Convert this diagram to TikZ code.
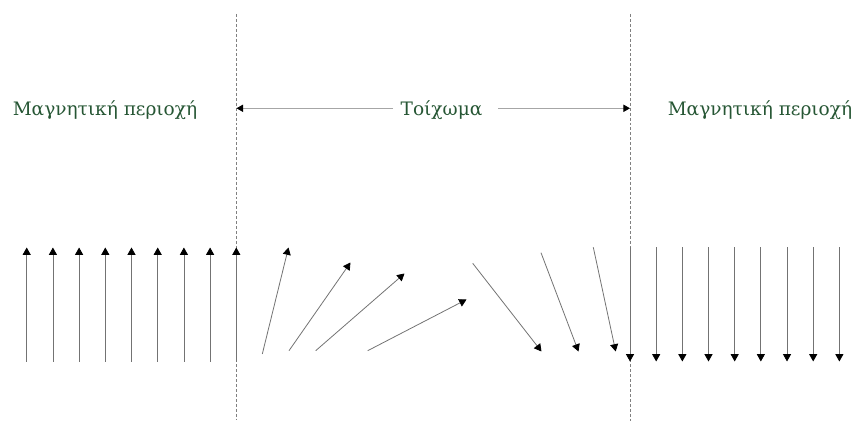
\documentclass[tikz,border=0pt]{standalone}
\usepackage{fontspec}
\setmainfont{DejaVu Serif}
\usetikzlibrary{arrows.meta}
\definecolor{textgreen}{RGB}{38,86,52}
\tikzset{
  vec/.style={draw=black!55, line width=0.6pt, -{Triangle[width=6pt,length=5.5pt,color=black]}},
  wallline/.style={draw=black!50, line width=0.5pt, dash pattern=on 2.2pt off 1.5pt},
  span/.style={draw=black!35, line width=0.7pt, -{Triangle[width=5.5pt,length=5pt,color=black]}},
  lbl/.style={text=textgreen, font=\fontsize{13.9}{16}\selectfont, inner sep=1pt}
}
\begin{document}
\begin{tikzpicture}[x=0.75pt,y=-0.75pt]
\useasboundingbox (0,0) rectangle (857,423);
% domain wall boundaries
\coordinate (lt) at (236.3,14); \coordinate (lb) at (236.3,419);
\coordinate (rt) at (630,14); \coordinate (rb) at (630,421);
\draw[wallline] (lt) -- (lb);
\draw[wallline] (rt) -- (rb);
% labels
\node[lbl] (left) at (105,110) {Μαγνητική περιοχή};
\node[lbl] (right) at (760,110) {Μαγνητική περιοχή};
\node[lbl] (wall) at (441.5,110) {Τοίχωμα};
\coordinate (wa) at (393,108.3);
\coordinate (wb) at (498,108.3);
\coordinate (wl) at (236.5,108.3);
\coordinate (wr) at (630,108.3);
\draw[span] (wa) -- (wl);
\draw[span] (wb) -- (wr);
% up arrows (left domain)
\foreach \i in {0,...,8}{
  \coordinate (u\i s) at ({26.7+26.2*\i},362);
  \coordinate (u\i e) at ({26.7+26.2*\i},247.5);
  \draw[vec] (u\i s) -- (u\i e);
}
% rotating arrows in the wall
\foreach \n/\sx/\sy/\ex/\ey in {
  1/262.3/354/288.5/247.5,
  2/289/350.7/350.5/262.5,
  3/315.7/350.7/404.5/273.5,
  4/367.7/350.7/466.5/299.5,
  5/472.7/263.3/541.5/351.5,
  6/541/252.7/578.5/351.5,
  7/593.3/247.3/615.7/351.5}{
  \coordinate (w\n s) at (\sx,\sy);
  \coordinate (w\n e) at (\ex,\ey);
  \draw[vec] (w\n s) -- (w\n e);
}
% down arrows (right domain)
\foreach \i in {0,...,8}{
  \coordinate (d\i s) at ({630+26.17*\i},247.5);
  \coordinate (d\i e) at ({630+26.17*\i},361.5);
  \draw[vec] (d\i s) -- (d\i e);
}
\end{tikzpicture}
\end{document}
